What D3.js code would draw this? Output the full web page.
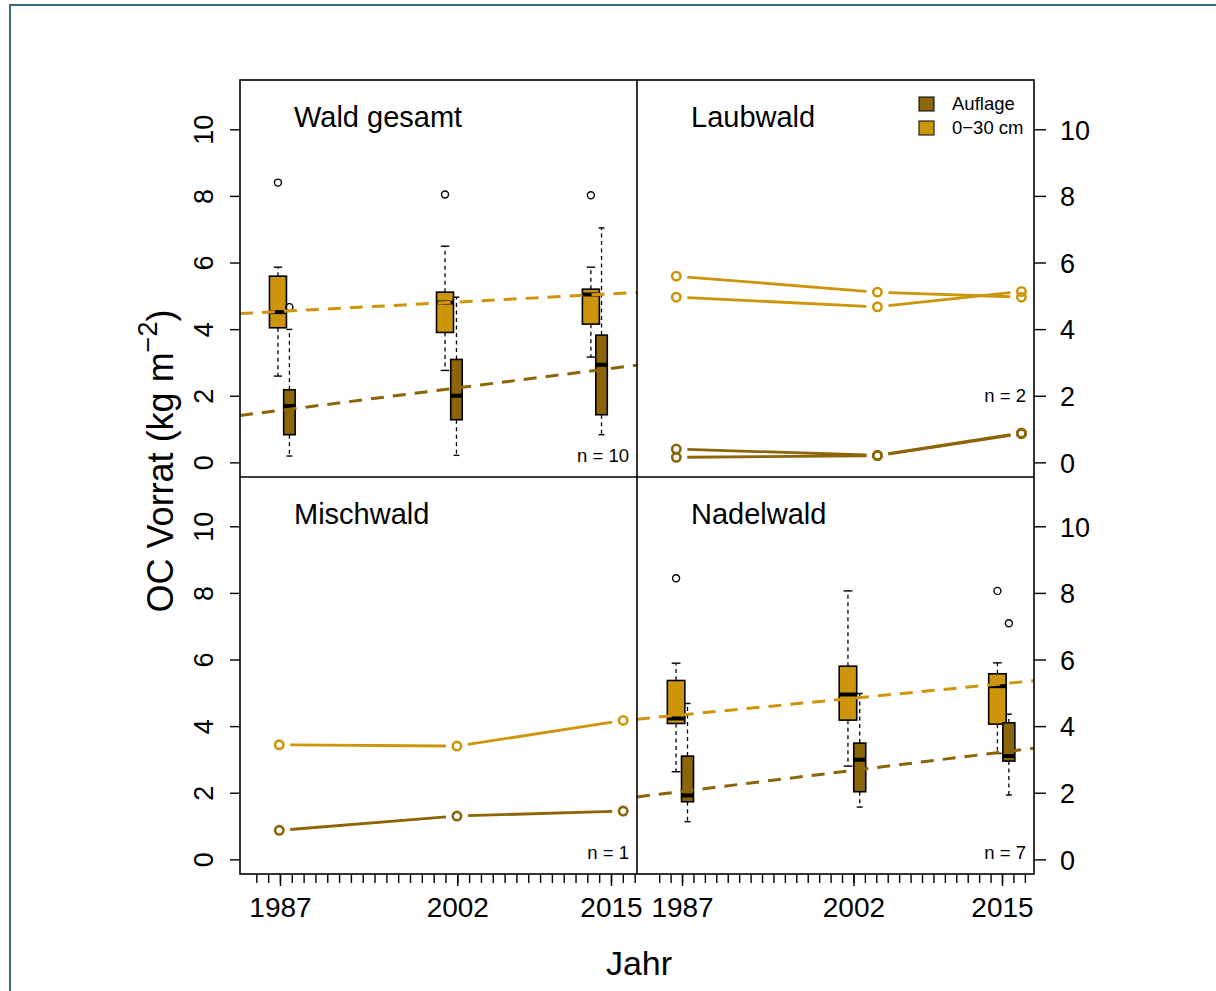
<!DOCTYPE html>
<html><head><meta charset="utf-8">
<script src="https://cdn.jsdelivr.net/npm/d3@7"></script>
<style>body{margin:0;background:#fff}svg{display:block;font-family:"Liberation Sans",Arial,sans-serif}</style>
</head><body><svg id="c" width="1216" height="991"></svg>
<script>
// ---------- data ----------
const panelTitles = ["Wald gesamt", "Laubwald", "Mischwald", "Nadelwald"];
const nLabels = ["n = 10", "n = 2", "n = 1", "n = 7"];
const nLabelValue = [0, 1.8, 0, 0];
const seriesNames = ["Auflage", "0\u221230 cm"];
const yTicks = [0, 2, 4, 6, 8, 10];
const majorYears = [1987, 2002, 2015];
const xTickLabels = ["1987", "2002", "2015"];
const minorYears = d3.range(1985, 2018);

// box stats: [lower whisker, Q1, median, Q3, upper whisker]
const gesamtTopsoilAt = [1986.83, 2000.96, 2013.3];
const gesamtTopsoilBoxes = [[2.59, 4.04, 4.51, 5.59, 5.86], [2.76, 3.90, 4.80, 5.11, 6.49], [3.16, 4.15, 5.04, 5.20, 5.86]];
const gesamtTopsoilOutliers = [[8.40], [8.04], [8.02]];
const gesamtLitterAt = [1987.8, 2001.93, 2014.2];
const gesamtLitterBoxes = [[0.19, 0.83, 1.69, 2.18, 3.99], [0.21, 1.28, 2.00, 3.09, 4.96], [0.83, 1.43, 2.93, 3.82, 7.04]];
const gesamtLitterOutliers = [[4.66], [], []];
const gesamtTopsoilTrend = [4.53, 5.06];   // fitted values at 1987 and 2015
const gesamtLitterTrend = [1.56, 2.82];

const nadelTopsoilAt = [1986.48, 2001.52, 2014.6];
const nadelTopsoilBoxes = [[2.63, 4.08, 4.23, 5.37, 5.89], [2.80, 4.18, 4.95, 5.80, 8.06], [3.18, 4.06, 5.20, 5.57, 5.90]];
const nadelTopsoilOutliers = [[8.44], [], [8.06]];
const nadelLitterAt = [1987.48, 2002.55, 2015.6];
const nadelLitterBoxes = [[1.13, 1.73, 1.92, 3.10, 4.68], [1.57, 2.03, 2.99, 3.49, 4.98], [1.93, 2.95, 3.10, 4.10, 4.36]];
const nadelLitterOutliers = [[], [], [7.09]];
const nadelTopsoilTrend = [4.34, 5.27];
const nadelLitterTrend = [2.04, 3.22];

const laubAt = [1986.5, 2004.1, 2016.7];
const laubTopsoilA = [5.59, 5.11, 4.96];
const laubTopsoilB = [4.96, 4.67, 5.13];
const laubLitterA = [0.40, 0.21, 0.88];
const laubLitterB = [0.15, 0.20, 0.86];

const mischAt = [1986.94, 2001.97, 2016.03];
const mischTopsoil = [3.44, 3.40, 4.17];
const mischLitter = [0.87, 1.30, 1.45];

// ---------- style ----------
const colTop = "#CD950C", colLit = "#8B6508";
const svg = d3.select("#c");
const font = '"Liberation Sans", Arial, sans-serif';

svg.append("rect").attr("x", 10).attr("y", 5).attr("width", 1400).attr("height", 1200)
  .attr("fill", "none").attr("stroke", "#3b6a80").attr("stroke-width", 2);

const L = 240, M = 637, R = 1034, T = 80, MID = 477, B = 874;
const xCols = [
  d3.scaleLinear().domain([1983.62, 2017.2]).range([L, M]),
  d3.scaleLinear().domain([1983.06, 2017.8]).range([M, R])
];
const yRows = [
  d3.scaleLinear().domain([-0.44, 11.48]).range([MID, T]),
  d3.scaleLinear().domain([-0.44, 11.48]).range([B, MID])
];

// clip paths
const defs = svg.append("defs");
[[0,0],[1,0],[0,1],[1,1]].forEach(([c, r], i) => {
  const xs = xCols[c].range(), ys = yRows[r].range();
  defs.append("clipPath").attr("id", "clip" + i).append("rect")
    .attr("x", xs[0]).attr("y", ys[1]).attr("width", xs[1] - xs[0]).attr("height", ys[0] - ys[1]);
});

function drawBoxes(g, x, y, at, boxes, outliers, color, w) {
  boxes.forEach((b, i) => {
    const cx = x(at[i]);
    const [lo, q1, med, q3, hi] = b;
    g.append("line").attr("x1", cx).attr("x2", cx).attr("y1", y(q3)).attr("y2", y(hi))
      .attr("stroke", "#000").attr("stroke-width", 1.3).attr("stroke-dasharray", "4,3.5");
    g.append("line").attr("x1", cx).attr("x2", cx).attr("y1", y(q1)).attr("y2", y(lo))
      .attr("stroke", "#000").attr("stroke-width", 1.3).attr("stroke-dasharray", "4,3.5");
    [lo, hi].forEach(v => g.append("line").attr("x1", cx - w / 4).attr("x2", cx + w / 4)
      .attr("y1", y(v)).attr("y2", y(v)).attr("stroke", "#000").attr("stroke-width", 1.4));
    g.append("rect").attr("x", cx - w / 2).attr("width", w).attr("y", y(q3)).attr("height", y(q1) - y(q3))
      .attr("fill", color).attr("stroke", "#000").attr("stroke-width", 1.6);
    g.append("line").attr("x1", cx - w / 2).attr("x2", cx + w / 2).attr("y1", y(med)).attr("y2", y(med))
      .attr("stroke", "#000").attr("stroke-width", 4);
    (outliers[i] || []).forEach(v => g.append("circle").attr("cx", cx).attr("cy", y(v)).attr("r", 3.5)
      .attr("fill", "none").attr("stroke", "#000").attr("stroke-width", 1.4));
  });
}

function drawTrend(g, x, y, trend, color, clipId) {
  const slope = (trend[1] - trend[0]) / (2015 - 1987);
  const d = x.domain();
  const f = t => trend[0] + slope * (t - 1987);
  g.append("line").attr("clip-path", "url(#" + clipId + ")")
    .attr("x1", x(d[0])).attr("y1", y(f(d[0]))).attr("x2", x(d[1])).attr("y2", y(f(d[1])))
    .attr("stroke", color).attr("stroke-width", 3).attr("stroke-dasharray", "13,9");
}

function drawB(g, x, y, at, vals, color) {
  const pts = at.map((t, i) => [x(t), y(vals[i])]);
  const gap = 11;
  for (let i = 0; i < pts.length - 1; i++) {
    const [x1, y1] = pts[i], [x2, y2] = pts[i + 1];
    const len = Math.hypot(x2 - x1, y2 - y1);
    const ux = (x2 - x1) / len, uy = (y2 - y1) / len;
    g.append("line").attr("x1", x1 + ux * gap).attr("y1", y1 + uy * gap)
      .attr("x2", x2 - ux * gap).attr("y2", y2 - uy * gap)
      .attr("stroke", color).attr("stroke-width", 2.8);
  }
  pts.forEach(p => g.append("circle").attr("cx", p[0]).attr("cy", p[1]).attr("r", 4.2)
    .attr("fill", "none").attr("stroke", color).attr("stroke-width", 2.6));
}

// ---------- panels ----------
const panelDefs = [[0, 0], [1, 0], [0, 1], [1, 1]];
panelDefs.forEach(([c, r], i) => {
  const x = xCols[c], y = yRows[r];
  const g = svg.append("g");
  if (i === 0) {
    drawBoxes(g, x, y, gesamtTopsoilAt, gesamtTopsoilBoxes, gesamtTopsoilOutliers, colTop, 17);
    drawBoxes(g, x, y, gesamtLitterAt, gesamtLitterBoxes, gesamtLitterOutliers, colLit, 11.5);
    drawTrend(g, x, y, gesamtTopsoilTrend, colTop, "clip0");
    drawTrend(g, x, y, gesamtLitterTrend, colLit, "clip0");
  } else if (i === 1) {
    drawB(g, x, y, laubAt, laubTopsoilA, colTop);
    drawB(g, x, y, laubAt, laubTopsoilB, colTop);
    drawB(g, x, y, laubAt, laubLitterA, colLit);
    drawB(g, x, y, laubAt, laubLitterB, colLit);
  } else if (i === 2) {
    drawB(g, x, y, mischAt, mischTopsoil, colTop);
    drawB(g, x, y, mischAt, mischLitter, colLit);
  } else {
    drawBoxes(g, x, y, nadelTopsoilAt, nadelTopsoilBoxes, nadelTopsoilOutliers, colTop, 17.5);
    drawBoxes(g, x, y, nadelLitterAt, nadelLitterBoxes, nadelLitterOutliers, colLit, 12);
    drawTrend(g, x, y, nadelTopsoilTrend, colTop, "clip3");
    drawTrend(g, x, y, nadelLitterTrend, colLit, "clip3");
  }
  const xs = x.range(), ys = y.range();
  svg.append("text").attr("x", xs[0] + 54).attr("y", ys[1] + 47).attr("font-size", 29)
    .attr("fill", "#000").text(panelTitles[i]);
  svg.append("text").attr("x", xs[1] - 8).attr("y", y(nLabelValue[i])).attr("text-anchor", "end")
    .attr("font-size", 18.5).attr("fill", "#000").text(nLabels[i]);
});

// panel borders
svg.append("rect").attr("x", L).attr("y", T).attr("width", R - L).attr("height", B - T)
  .attr("fill", "none").attr("stroke", "#000").attr("stroke-width", 1.6);
svg.append("line").attr("x1", M).attr("x2", M).attr("y1", T).attr("y2", B).attr("stroke", "#000").attr("stroke-width", 1.6);
svg.append("line").attr("x1", L).attr("x2", R).attr("y1", MID).attr("y2", MID).attr("stroke", "#000").attr("stroke-width", 1.6);

// ---------- axes ----------
function styleAxis(sel) {
  sel.select(".domain").remove();
  sel.selectAll("line").attr("stroke", "#000").attr("stroke-width", 1.4);
  sel.selectAll("text").attr("fill", "#000").attr("font-family", font);
}
yRows.forEach(y => {
  const gl = svg.append("g").attr("transform", `translate(${L},0)`)
    .call(d3.axisLeft(y).tickValues(yTicks).tickSize(10).tickFormat(d3.format("d")));
  styleAxis(gl);
  gl.selectAll("text").attr("x", null).attr("dy", null).attr("text-anchor", "middle")
    .attr("font-size", 27).attr("transform", "translate(-27,0) rotate(-90)");
  const gr = svg.append("g").attr("transform", `translate(${R},0)`)
    .call(d3.axisRight(y).tickValues(yTicks).tickSize(12).tickPadding(14).tickFormat(d3.format("d")));
  styleAxis(gr);
  gr.selectAll("text").attr("font-size", 27).attr("dy", "0.36em");
});
xCols.forEach(x => {
  const gm = svg.append("g").attr("transform", `translate(0,${B})`)
    .call(d3.axisBottom(x).tickValues(minorYears).tickSize(9).tickFormat(""));
  styleAxis(gm);
  const gM = svg.append("g").attr("transform", `translate(0,${B})`)
    .call(d3.axisBottom(x).tickValues(majorYears).tickSize(12).tickPadding(11)
      .tickFormat((d, i) => xTickLabels[i]));
  styleAxis(gM);
  gM.selectAll("text").attr("font-size", 28);
});

// axis titles
const yt = svg.append("text").attr("transform", "translate(173,461) rotate(-90)")
  .attr("text-anchor", "middle").attr("font-size", 36).attr("fill", "#000");
yt.append("tspan").text("OC Vorrat (kg m");
yt.append("tspan").attr("font-size", 27).attr("dy", -16).text("\u22122");
yt.append("tspan").attr("dy", 16).text(")");
svg.append("text").attr("x", 639).attr("y", 975).attr("text-anchor", "middle")
  .attr("font-size", 34).attr("fill", "#000").text("Jahr");

// legend
const leg = svg.append("g");
[colLit, colTop].forEach((c, i) => {
  leg.append("rect").attr("x", 919).attr("y", 97 + i * 24).attr("width", 15).attr("height", 14)
    .attr("fill", c).attr("stroke", "#000").attr("stroke-width", 1);
  leg.append("text").attr("x", 952).attr("y", 110 + i * 24).attr("font-size", 18.5)
    .attr("fill", "#000").text(seriesNames[i]);
});
</script></body></html>
